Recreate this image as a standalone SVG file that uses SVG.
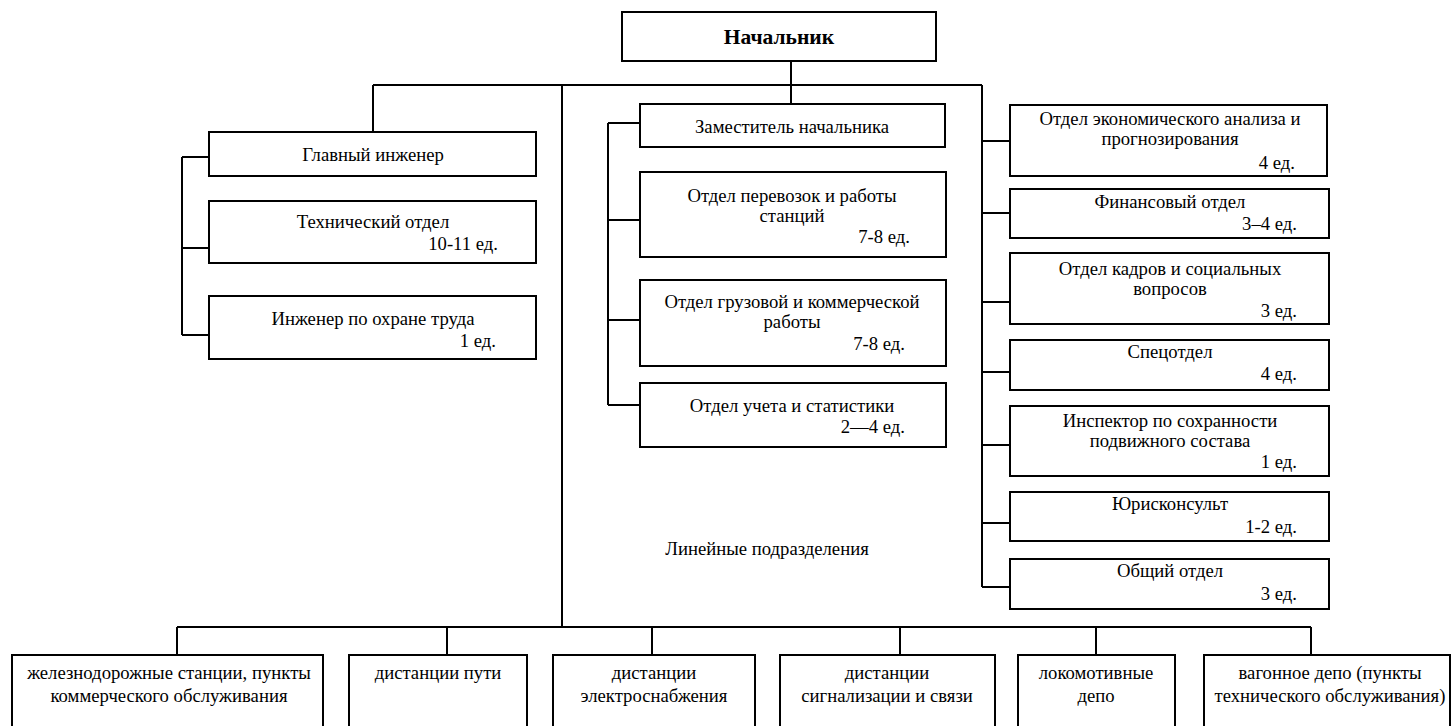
<svg xmlns="http://www.w3.org/2000/svg" width="1456" height="726" viewBox="0 0 1456 726" font-family="Liberation Serif, Times New Roman, serif">
<style>
.b{fill:#fff;stroke:#000;stroke-width:2}
.c{fill:none;stroke:#000;stroke-width:2}
text{font-family:"Liberation Serif","Times New Roman",serif;font-size:18.7px;fill:#000}
.m{text-anchor:middle}
.r{text-anchor:end}
.h{font-weight:bold;font-size:21.5px}
</style>
<rect width="1456" height="726" fill="#fff"/>
<g id="connectors">
<path class="c" d="M791 61V104M373 85H982M373 85V132M562 85V627M982 85V587"/>
<path class="c" d="M182 157V335M182 157H209M182 248H209M182 335H209"/>
<path class="c" d="M608 123V405M608 123H640M608 220H640M608 320H640M608 405H640"/>
<path class="c" d="M982 141H1010M982 213H1010M982 302H1010M982 372H1010M982 445H1010M982 523H1010M982 587H1010"/>
<path class="c" d="M177 627H1311M177 627V655M447 627V655M652 627V655M900 627V655M1096 627V655M1311 627V655"/>
</g>
<g id="n-head"><rect class="b" x="622" y="12" width="314" height="49"/><text class="m h" x="779" y="44">Начальник</text></g>
<g id="n-chief-eng"><rect class="b" x="209" y="132" width="327" height="44"/><text class="m" x="373" y="161">Главный инженер</text></g>
<g id="n-tech"><rect class="b" x="209" y="201" width="327" height="62"/><text class="m" x="373" y="228">Технический отдел</text><text class="r" x="498" y="250">10-11 ед.</text></g>
<g id="n-safety"><rect class="b" x="209" y="296" width="327" height="63"/><text class="m" x="373" y="325">Инженер по охране труда</text><text class="r" x="496" y="347">1 ед.</text></g>
<g id="n-deputy"><rect class="b" x="640" y="104" width="305" height="43"/><text class="m" x="792" y="133">Заместитель начальника</text></g>
<g id="n-transport"><rect class="b" x="640" y="172" width="306" height="85"/><text class="m" x="792" y="202">Отдел перевозок и работы</text><text class="m" x="792" y="222">станций</text><text class="r" x="910" y="243">7-8 ед.</text></g>
<g id="n-cargo"><rect class="b" x="640" y="280" width="306" height="86"/><text class="m" x="792" y="308">Отдел грузовой и коммерческой</text><text class="m" x="792" y="328">работы</text><text class="r" x="905" y="350">7-8 ед.</text></g>
<g id="n-stats"><rect class="b" x="640" y="383" width="306" height="64"/><text class="m" x="792" y="412">Отдел учета и статистики</text><text class="r" x="905" y="433">2—4 ед.</text></g>
<g id="n-econ"><rect class="b" x="1010" y="105" width="317" height="71"/><text class="m" x="1170" y="125">Отдел экономического анализа и</text><text class="m" x="1170" y="145">прогнозирования</text><text class="r" x="1295" y="169">4 ед.</text></g>
<g id="n-fin"><rect class="b" x="1010" y="189" width="319" height="49"/><text class="m" x="1170" y="208">Финансовый отдел</text><text class="r" x="1297" y="230">3–4 ед.</text></g>
<g id="n-hr"><rect class="b" x="1010" y="253" width="319" height="71"/><text class="m" x="1170" y="275">Отдел кадров и социальных</text><text class="m" x="1170" y="295">вопросов</text><text class="r" x="1297" y="317">3 ед.</text></g>
<g id="n-spec"><rect class="b" x="1010" y="340" width="319" height="50"/><text class="m" x="1170" y="358">Спецотдел</text><text class="r" x="1297" y="380">4 ед.</text></g>
<g id="n-inspector"><rect class="b" x="1010" y="406" width="319" height="70"/><text class="m" x="1170" y="427">Инспектор по сохранности</text><text class="m" x="1170" y="447">подвижного состава</text><text class="r" x="1297" y="468">1 ед.</text></g>
<g id="n-legal"><rect class="b" x="1010" y="492" width="319" height="49"/><text class="m" x="1170" y="510">Юрисконсульт</text><text class="r" x="1297" y="533">1-2 ед.</text></g>
<g id="n-general"><rect class="b" x="1010" y="559" width="319" height="50"/><text class="m" x="1170" y="577">Общий отдел</text><text class="r" x="1297" y="600">3 ед.</text></g>
<g id="n-linear-label"><text class="m" x="767" y="555">Линейные подразделения</text></g>
<g id="n-stations"><rect class="b" x="12" y="655" width="311" height="80"/><text class="m" x="169" y="679">железнодорожные станции, пункты</text><text class="m" x="169" y="702">коммерческого обслуживания</text></g>
<g id="n-track"><rect class="b" x="349" y="655" width="178" height="80"/><text class="m" x="438" y="679">дистанции пути</text></g>
<g id="n-power"><rect class="b" x="553" y="655" width="202" height="80"/><text class="m" x="654" y="679">дистанции</text><text class="m" x="654" y="702">электроснабжения</text></g>
<g id="n-signal"><rect class="b" x="780" y="655" width="215" height="80"/><text class="m" x="887" y="679">дистанции</text><text class="m" x="887" y="702">сигнализации и связи</text></g>
<g id="n-loco"><rect class="b" x="1018" y="655" width="157" height="80"/><text class="m" x="1096" y="679">локомотивные</text><text class="m" x="1096" y="702">депо</text></g>
<g id="n-wagon"><rect class="b" x="1204" y="655" width="246" height="80"/><text class="m" x="1330" y="679">вагонное депо (пункты</text><text class="m" x="1330" y="702">технического обслуживания)</text></g>
</svg>
